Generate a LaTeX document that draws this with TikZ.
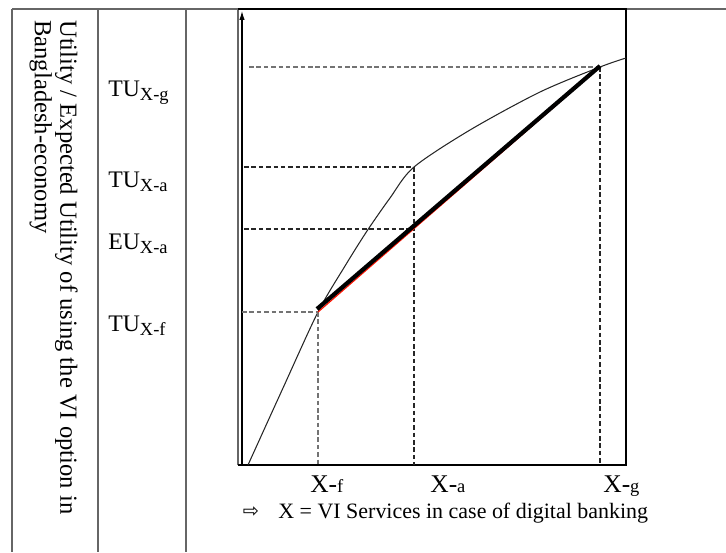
\documentclass[tikz,border=0pt]{standalone}
\usepackage{fontspec}
\setmainfont{Liberation Serif}
\newfontfamily\symbolfont{DejaVu Sans}
\usetikzlibrary{arrows.meta,calc}

% indices des étiquettes
\newcommand{\tusub}[1]{\raisebox{-0.4ex}{\fontsize{10.5}{12}\selectfont #1}}
\newcommand{\xlab}[1]{{\fontsize{14.5}{16}\selectfont X-}{\fontsize{10.5}{12}\selectfont #1}}

\tikzset{
  tableline/.style={draw=gray!80!black, line width=0.6pt},
  boxline/.style={draw=black, line width=1.1pt},
  guide/.style={draw=black!85, line width=0.6pt, dash pattern=on 2.6pt off 1.6pt},
  guidegray/.style={draw=gray!90!black, line width=0.8pt, dash pattern=on 2.6pt off 1.6pt},
  ulabel/.style={anchor=base west, inner sep=0pt, font=\fontsize{13.5}{15}\selectfont},
  xlabel/.style={anchor=base west, inner sep=0pt}
}

\begin{document}
\begin{tikzpicture}[x=0.02cm, y=-0.02cm]
    \useasboundingbox (0,0) rectangle (726,552);

    % Lignes du tableau
    \draw[tableline] (12,9) -- (726,9);
    \draw[tableline] (12,9) -- (12,552);
    \draw[tableline] (98,9) -- (98,552);
    \draw[tableline] (186,9) -- (186,552);

    % Texte vertical de la première colonne
    \node[rotate=-90, anchor=north west, align=left, inner sep=0pt,
          font=\fontsize{14}{14.5}\selectfont] (titre) at (78,20)
        {Utility / Expected Utility of using the VI option in\\Bangladesh-economy};

    % Étiquettes de l'axe vertical
    \node[ulabel] (tug) at (108,96) {TU\tusub{X-g}};
    \node[ulabel] (tua) at (108,187) {TU\tusub{X-a}};
    \node[ulabel] (eua) at (108,249) {EU\tusub{X-a}};
    \node[ulabel] (tuf) at (108,331) {TU\tusub{X-f}};

    % Cadre du graphique et axes
    \coordinate (O) at (238,465);
    \coordinate (NW) at (238,9);
    \coordinate (SE) at (626,465);
    \coordinate (NE) at (626,9);
    \draw[tableline] (O) -- (NW);
    \draw[boxline] (NW) -- (NE) -- (SE) -- (O);
    \coordinate (ybas) at (242,465);
    \coordinate (yhaut) at (242,11);
    \draw[line width=0.6pt, -{Latex[length=5pt, width=3pt]}] (ybas) -- (yhaut);

    % Points de la courbe
    \coordinate (Pf) at (318,312);
    \coordinate (Pa) at (414,167);
    \coordinate (Pg) at (600,67);
    \coordinate (Ea) at (414,229);

    % Courbe d'utilité concave
    \draw[gray!30!black, line width=0.6pt] plot[smooth, tension=0.5] coordinates
        {(248,465) (283,388) (318,312) (345,266) (367,231) (390,198) (414,167)
         (470,130) (540,92) (600,67) (626,58)};

    % Lignes pointillées
    \draw[guidegray] (249,67) -- (Pg);
    \draw[guide] (244,167) -- (Pa);
    \draw[guide] (244,229) -- (Ea);
    \draw[guidegray] (242,312) -- (Pf);
    \draw[guidegray] (Pf) -- (318,465);
    \draw[guide] (Pa) -- (414,465);
    \draw[guide] (Pg) -- (600,465);

    % Corde entre X-f et X-g
    \draw[red!85!orange, line width=0.7pt] (Pf) -- (Pg);
    \draw[black, line width=2.4pt] ($(Pf)+(-1,-3)$) -- ($(Pg)+(0,-1)$);

    % Étiquettes de l'axe horizontal
    \node[xlabel] (xf) at (310,492) {\xlab{f}};
    \node[xlabel] (xa) at (430,492) {\xlab{a}};
    \node[xlabel] (xg) at (603,492) {\xlab{g}};

    % Légende
    \node[inner sep=0pt, font=\symbolfont\fontsize{11}{12}\selectfont] (fleche) at (251,512) {⇨};
    \node[anchor=west, inner sep=0pt, font=\fontsize{12.5}{15}\selectfont] (legende) at (278,513)
        {X = VI Services in case of digital banking};

\end{tikzpicture}
\end{document}
